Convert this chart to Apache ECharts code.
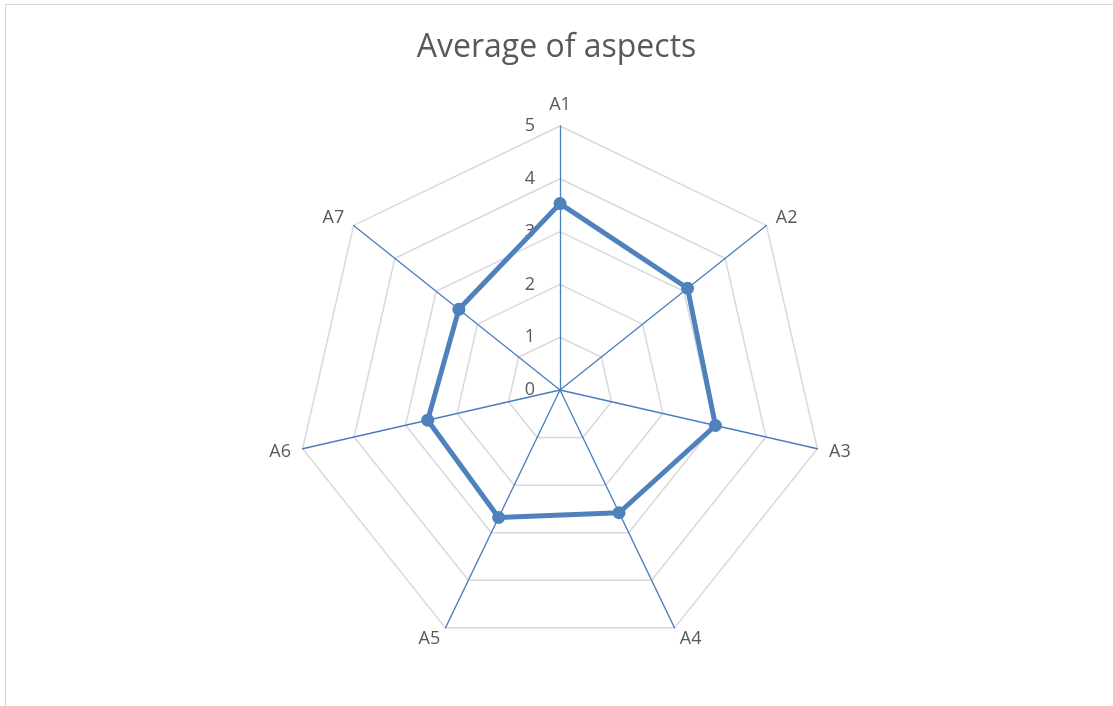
<!DOCTYPE html>
<html>
<head>
<meta charset="utf-8">
<title>Average of aspects</title>
<script src="https://cdn.jsdelivr.net/npm/echarts@6/dist/echarts.min.js"></script>
<style>
  html, body { margin: 0; padding: 0; background: #fff; overflow: hidden; }
  #chart { position: absolute; left: 0; top: 0; width: 1113px; height: 706px; }
  #frame { position: absolute; left: 5px; top: 4px; width: 1200px; height: 800px; z-index: 2;
    pointer-events: none; border-left: 1px solid #d6d6d6; border-top: 1px solid #d6d6d6; }
</style>
</head>
<body>
<div id="chart"></div>
<div id="frame"></div>
<script>
// radar data
var aspects = ['A1', 'A2', 'A3', 'A4', 'A5', 'A6', 'A7'];
var averages = [3.53, 3.09, 3.02, 2.58, 2.68, 2.57, 2.45];
var scaleMax = 5;
var tickLabels = ['0', '1', '2', '3', '4', '5'];

var textGrey = '#595959';
var fontFamily = '"Open Sans", "Noto Sans", sans-serif';
var blue = '#4a7ebb';

// echarts lays spokes out counter-clockwise, Excel clockwise:
// keep A1 on top and reverse the rest
var order = [0];
for (var k = aspects.length - 1; k > 0; k--) order.push(k);

var indicator = order.map(function (i, pos) {
  var ind = { name: aspects[i], max: scaleMax, min: 0 };
  if (pos === 0) {
    // only the top spoke carries the 0..5 scale
    ind.axisLabel = {
      show: true,
      color: textGrey,
      fontSize: 18,
      fontFamily: fontFamily,
      margin: 25,
      formatter: function (v) { return tickLabels[Math.round(v)]; }
    };
  }
  return ind;
});
var values = order.map(function (i) { return averages[i]; });

var chart = echarts.init(document.getElementById('chart'));

var option = {
  backgroundColor: '#fff',
  animation: false,
  title: {
    text: 'Average of aspects',
    left: 'center',
    top: 27,
    textStyle: { color: textGrey, fontSize: 32, fontWeight: 'normal', fontFamily: fontFamily }
  },
  radar: {
    center: [560, 390],
    radius: 264,
    shape: 'polygon',
    splitNumber: 5,
    startAngle: 90,
    indicator: indicator,
    axisName: { color: textGrey, fontSize: 18, fontFamily: fontFamily },
    nameGap: 12,
    axisLine: { lineStyle: { color: blue, width: 1.3 } },
    splitLine: { lineStyle: { color: '#d9d9d9', width: 1.5 } },
    splitArea: { show: false },
    axisTick: { show: false },
    axisLabel: { show: false }
  },
  series: [{
    type: 'radar',
    symbol: 'circle',
    symbolSize: 13,
    lineStyle: { color: '#4f81bd', width: 5 },
    itemStyle: { color: '#4f81bd' },
    data: [{ value: values, name: 'Average' }]
  }]
};

chart.setOption(option);
</script>
</body>
</html>
